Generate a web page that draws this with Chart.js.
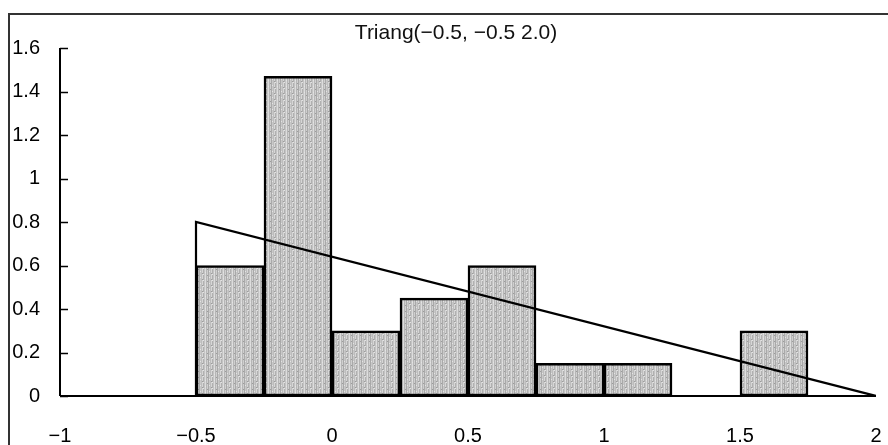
<!DOCTYPE html>
<html>
<head>
<meta charset="utf-8">
<script src="https://cdn.jsdelivr.net/npm/chart.js@4/dist/chart.umd.min.js"></script>
<style>
  html, body { margin: 0; padding: 0; background: #fff; }
  #wrap { width: 888px; height: 445px; position: relative; }
</style>
</head>
<body>
<div id="wrap"><canvas id="chart"></canvas></div>
<script>
// histogram bins (left edge) and heights
const binStart = [-0.5, -0.25, 0, 0.25, 0.5, 0.75, 1, 1.25, 1.5];
const binWidth = 0.25;
const density = [0.6, 1.47, 0.3, 0.45, 0.6, 0.15, 0.15, 0, 0.3];

// triangular density Triang(-0.5, -0.5, 2.0)
const triangX = [-0.5, -0.5, 2];
const triangY = [0, 0.8, 0];

const xTicks = [-1, -0.5, 0, 0.5, 1, 1.5, 2];
const yTicks = [0, 0.2, 0.4, 0.6, 0.8, 1, 1.2, 1.4, 1.6];
const chartTitle = 'Triang(\u22120.5, \u22120.5 2.0)';

const FONT = "'Liberation Sans', Arial, sans-serif";

// grey vertical-stripe fill like the scanned bars
function stripePattern() {
  const c = document.createElement('canvas');
  c.width = 9; c.height = 6;
  const g = c.getContext('2d');
  const cols = ['#cfcfcf', '#a9a9a9', '#c8c8c8', '#bdbdbd', '#d6d6d6', '#b0b0b0', '#c4c4c4', '#dcdcdc', '#b6b6b6'];
  cols.forEach((col, i) => { g.fillStyle = col; g.fillRect(i, 0, 1, 6); });
  g.fillStyle = '#e4e4e4'; g.fillRect(2, 1, 1, 1); g.fillRect(5, 4, 1, 1); g.fillRect(7, 2, 1, 1);
  g.fillStyle = '#9c9c9c'; g.fillRect(4, 3, 1, 1); g.fillRect(0, 5, 1, 1);
  return g.createPattern(c, 'repeat');
}

const decorations = {
  id: 'decorations',
  afterDraw(chart) {
    const { ctx, scales: { x, y } } = chart;
    ctx.save();
    // outer frame (top and left edges visible)
    ctx.strokeStyle = '#333';
    ctx.lineWidth = 2;
    ctx.beginPath();
    ctx.moveTo(9, 445); ctx.lineTo(9, 14); ctx.lineTo(888, 14);
    ctx.stroke();
    // axes
    ctx.strokeStyle = '#000';
    ctx.lineWidth = 2;
    ctx.beginPath();
    ctx.moveTo(x.getPixelForValue(xTicks[0]), y.getPixelForValue(0));
    ctx.lineTo(x.getPixelForValue(xTicks[xTicks.length - 1]), y.getPixelForValue(0));
    ctx.moveTo(x.getPixelForValue(xTicks[0]), y.getPixelForValue(0));
    ctx.lineTo(x.getPixelForValue(xTicks[0]), y.getPixelForValue(yTicks[yTicks.length - 1]));
    ctx.stroke();
    // inward tick marks on the y axis
    ctx.lineWidth = 1.5;
    ctx.beginPath();
    yTicks.forEach(v => {
      const py = Math.round(y.getPixelForValue(v)) + 0.5;
      ctx.moveTo(x.getPixelForValue(xTicks[0]), py);
      ctx.lineTo(x.getPixelForValue(xTicks[0]) + 8, py);
    });
    ctx.stroke();
    // title
    ctx.fillStyle = '#111';
    ctx.font = '21px ' + FONT;
    ctx.textAlign = 'center';
    ctx.textBaseline = 'middle';
    ctx.fillText(chartTitle, 456, 33);
    ctx.restore();
  }
};

new Chart(document.getElementById('chart'), {
  type: 'bar',
  data: {
    datasets: [
      {
        type: 'line',
        label: 'Triang',
        data: triangX.map((v, i) => ({ x: v, y: triangY[i] })),
        borderColor: '#000',
        borderWidth: 2.2,
        pointRadius: 0,
        fill: false,
        tension: 0,
        order: 0
      },
      {
        type: 'bar',
        label: 'Histogram',
        data: binStart.map((v, i) => ({ x: v + binWidth / 2, y: density[i] })),
        backgroundColor: stripePattern(),
        borderColor: '#000',
        borderWidth: 2.5,
        borderSkipped: false,
        barPercentage: 1,
        categoryPercentage: 1,
        order: 1
      }
    ]
  },
  options: {
    responsive: true,
    maintainAspectRatio: false,
    animation: false,
    layout: { padding: { top: 48, right: 12, left: 0, bottom: 0 } },
    plugins: {
      legend: { display: false },
      title: { display: false },
      tooltip: { enabled: false }
    },
    scales: {
      x: {
        type: 'linear',
        min: xTicks[0],
        max: xTicks[xTicks.length - 1],
        offset: false,
        grid: { display: false, drawTicks: false },
        border: { display: false },
        afterBuildTicks: s => { s.ticks = xTicks.map(v => ({ value: v })); },
        afterFit: s => { s.height = 49; s.paddingLeft = 0; s.paddingRight = 0; },
        ticks: {
          padding: 28,
          color: '#000',
          font: { family: FONT, size: 20 },
          maxRotation: 0,
          callback: v => String(v).replace('-', '\u2212')
        }
      },
      y: {
        min: yTicks[0],
        max: yTicks[yTicks.length - 1],
        grid: { display: false, drawTicks: false },
        border: { display: false },
        afterBuildTicks: s => { s.ticks = yTicks.map(v => ({ value: v })); },
        afterFit: s => { s.width = 60; },
        ticks: {
          padding: 20,
          color: '#000',
          font: { family: FONT, size: 20 },
          callback: v => String(v)
        }
      }
    }
  },
  plugins: [decorations]
});
</script>
</body>
</html>
